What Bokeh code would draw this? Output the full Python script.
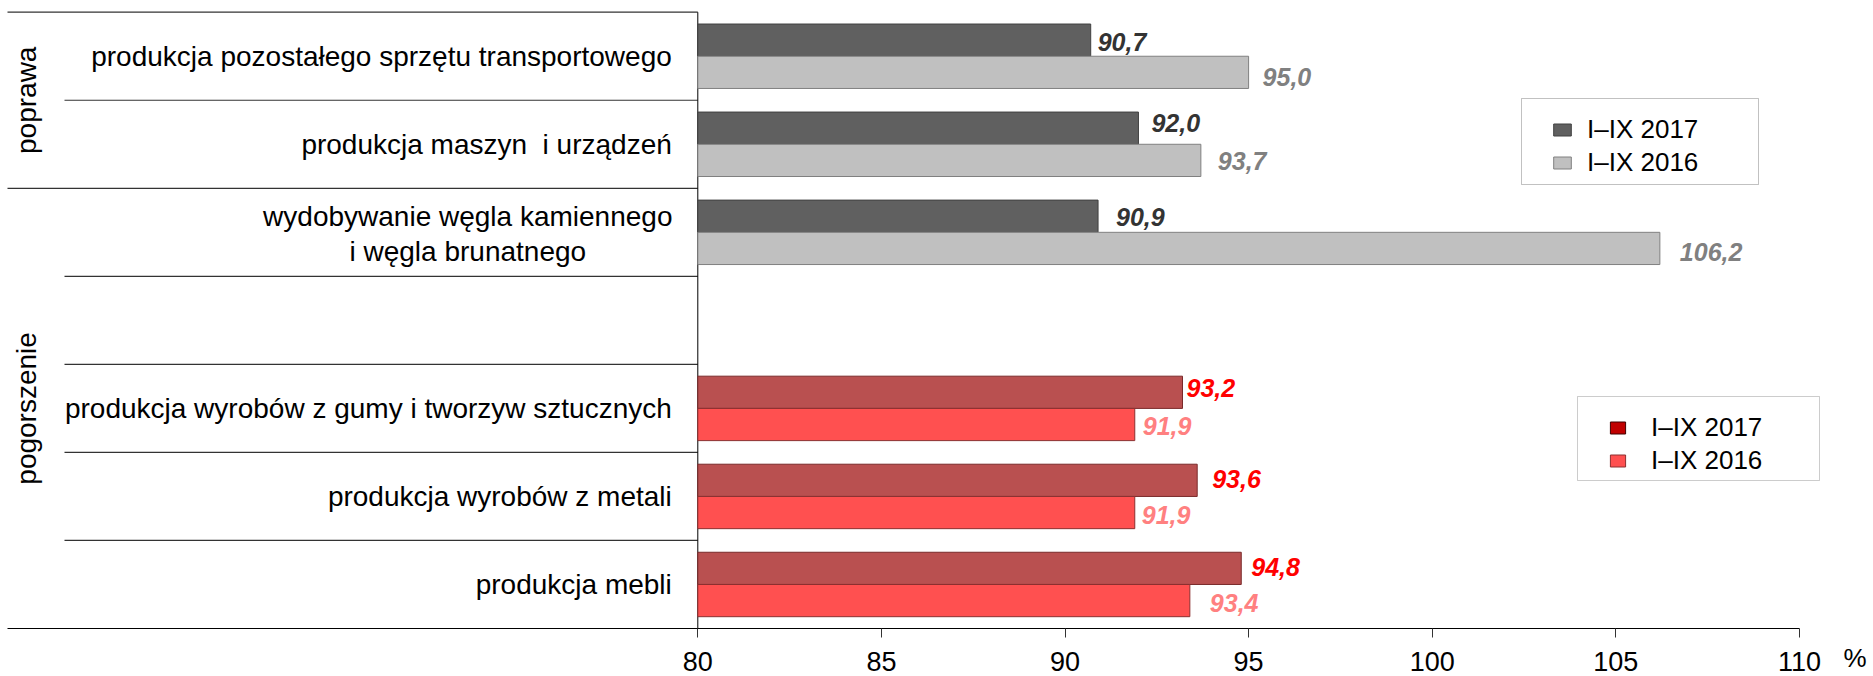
import math
from bokeh.plotting import figure
from bokeh.models import (Range1d, FixedTicker, Legend, LegendItem, BoxAnnotation)
from bokeh.core.properties import value
from bokeh.embed import file_html
from bokeh.resources import INLINE

# ---------------- data ----------------
gray_categories = ["produkcja pozostałego sprzętu transportowego",
                   "produkcja maszyn\u00a0 i urządzeń",
                   "wydobywanie węgla kamiennego\ni węgla brunatnego"]
gray_2017 = [90.7, 92.0, 90.9]
gray_2016 = [95.0, 93.7, 106.2]

red_categories = ["produkcja wyrobów z gumy i tworzyw sztucznych",
                  "produkcja wyrobów z metali",
                  "produkcja mebli"]
red_2017 = [93.2, 93.6, 94.8]
red_2016 = [91.9, 91.9, 93.4]

series_names = ["I\u2013IX 2017", "I\u2013IX 2016"]
group_names = ["poprawa", "pogorszenie"]
x_ticks = [80, 85, 90, 95, 100, 105, 110]
unit_label = "%"

# ---------------- layout / style ----------------
W, H = 1873, 676
B_TOP = 9
Y0_PX = 628           # px of the x axis (y = 0)
KX = 36.72            # px per x unit
KY = 88.04            # px per row
X_BASE = 80
X_BASE_PX = 697.3     # px of x = 80
X_START = X_BASE - X_BASE_PX / KX
X_END = X_START + W / KX
Y_START = -(H - Y0_PX) / KY
Y_END = (Y0_PX - B_TOP) / KY
N_ROWS = 7
BAR_H = 0.366
FONT = value("Liberation Sans")
LEFT_LINE_X = X_START + 7 / KX

def px_x(px):
    return X_START + px / KX

def px_y(py):
    return (Y0_PX - py) / KY

def fmt(v):
    return f"{v:.1f}".replace(".", ",")

gray_rows = [0, 1, 2]
red_rows = [4, 5, 6]
gray_y = [N_ROWS - i - 0.5 for i in gray_rows]
red_y = [N_ROWS - i - 0.5 for i in red_rows]

p = figure(width=W, height=H,
           x_range=Range1d(X_START, X_END), y_range=Range1d(Y_START, Y_END),
           y_axis_location=None,
           min_border_left=0, min_border_right=0,
           min_border_top=B_TOP, min_border_bottom=0,
           toolbar_location=None, output_backend="svg",
           background_fill_color="white", border_fill_color="white",
           outline_line_color=None)
p.xgrid.visible = False
p.ygrid.visible = False

# separator lines (left label area)
grp_lines_y = [7, 5]
row_lines_y = [6, 4, 3, 2, 1]
p.segment(x0=[LEFT_LINE_X] * len(grp_lines_y), x1=[X_BASE] * len(grp_lines_y),
          y0=grp_lines_y, y1=grp_lines_y, line_color="#333333", line_width=1.2)
p.segment(x0=[X_START + 64 / KX] * len(row_lines_y), x1=[X_BASE] * len(row_lines_y),
          y0=row_lines_y, y1=row_lines_y, line_color="#333333", line_width=1.2)
# vertical axis line
p.segment(x0=[X_BASE], x1=[X_BASE], y0=[0], y1=[N_ROWS], line_color="black", line_width=1)

# bars
off = BAR_H / 2
bg17 = p.hbar(y=[y + off for y in gray_y], left=X_BASE, right=gray_2017, height=BAR_H,
              fill_color="#606060", line_color="#404040", line_width=1)
bg16 = p.hbar(y=[y - off for y in gray_y], left=X_BASE, right=gray_2016, height=BAR_H,
              fill_color="#c0c0c0", line_color="#808080", line_width=1)
br17 = p.hbar(y=[y + off for y in red_y], left=X_BASE, right=red_2017, height=BAR_H,
              fill_color="#b95050", line_color="#7a2a2a", line_width=1)
br16 = p.hbar(y=[y - off for y in red_y], left=X_BASE, right=red_2016, height=BAR_H,
              fill_color="#ff5050", line_color="#8b3030", line_width=1)
# legend-only swatch for the red 2017 series (darker red in the key)
br17_key = p.hbar(y=[y + off for y in red_y], left=X_BASE, right=red_2017, height=BAR_H,
                  fill_color="#c00000", line_color="#400000", line_width=1, visible=False)

# value labels (pixel nudges per label)
lab_dx_g17 = [7, 13, 18]
lab_dx_g16 = [14, 17, 20]
lab_dx_r17 = [4, 15, 10]
lab_dx_r16 = [8, 7, 20]
lab_dy_g17 = [2, -5, 1]
lab_dy_g16 = [5, 1, 4]
lab_dy_r17 = [-4, -1, -1]
lab_dy_r16 = [1, 2, 2]

def value_labels(xs, ys, dxs, dys, color):
    p.text(x=xs, y=ys, text=[fmt(v) for v in xs], x_offset=dxs, y_offset=dys,
           text_align="left", text_baseline="middle", text_color=color,
           text_font=FONT, text_font_size="25px", text_font_style="bold italic")

value_labels(gray_2017, [y + off for y in gray_y], lab_dx_g17, lab_dy_g17, "#333333")
value_labels(gray_2016, [y - off for y in gray_y], lab_dx_g16, lab_dy_g16, "#808080")
value_labels(red_2017, [y + off for y in red_y], lab_dx_r17, lab_dy_r17, "#ff0000")
value_labels(red_2016, [y - off for y in red_y], lab_dx_r16, lab_dy_r16, "#ff8080")

# category labels
cats = gray_categories + red_categories
cat_y = gray_y + red_y
single = [(c, y) for c, y in zip(cats, cat_y) if "\n" not in c]
multi = [(c, y) for c, y in zip(cats, cat_y) if "\n" in c]
p.text(x=[X_BASE] * len(single), y=[y for _, y in single], text=[c for c, _ in single],
       x_offset=-26, text_align="right", text_baseline="middle", text_color="black",
       text_font=FONT, text_font_size="28px")
p.text(x=[X_BASE] * len(multi), y=[y for _, y in multi], text=[c for c, _ in multi],
       x_offset=-230, y_offset=2, text_align="center", text_baseline="middle",
       text_color="black", text_font=FONT, text_font_size="28px", text_line_height=1.12)

# group labels (rotated)
group_rows = [2, 5]
g_centers = []
top = N_ROWS
for n in group_rows:
    g_centers.append(top - n / 2)
    top -= n
p.text(x=[X_START] * 2, y=g_centers, text=group_names, x_offset=26, angle=math.pi / 2,
       text_align="center", text_baseline="middle", text_color="black",
       text_font=FONT, text_font_size="28px")

# x axis (drawn at y = 0 inside the frame)
ax = p.xaxis[0]
ax.fixed_location = 0
ax.ticker = FixedTicker(ticks=x_ticks)
ax.bounds = (LEFT_LINE_X, x_ticks[-1])
ax.major_tick_out = 9
ax.major_tick_in = 0
ax.minor_tick_out = 0
ax.minor_tick_in = 0
ax.major_tick_line_color = "#333333"
ax.axis_line_color = "black"
ax.major_label_standoff = 14
ax.major_label_text_font = "Liberation Sans"
ax.major_label_text_font_size = "27px"
ax.major_label_text_color = "black"

# unit sign right of the last tick
p.text(x=[x_ticks[-1]], y=[0], text=[unit_label], x_offset=44, y_offset=29,
       text_align="left", text_baseline="middle", text_color="black",
       text_font=FONT, text_font_size="26px")

# legend boxes
p.add_layout(BoxAnnotation(left=px_x(1521), right=px_x(1758), top=px_y(98), bottom=px_y(184),
                           fill_color="white", fill_alpha=1, line_color="#333333", line_width=1))
p.add_layout(BoxAnnotation(left=px_x(1577), right=px_x(1819), top=px_y(396), bottom=px_y(480),
                           fill_color="white", fill_alpha=1, line_color="#555555", line_width=1))

def make_legend(rs, loc, gw, standoff):
    return Legend(items=[LegendItem(label=series_names[0], renderers=[rs[0]]),
                         LegendItem(label=series_names[1], renderers=[rs[1]])],
                  location=loc, padding=0, margin=0, spacing=2,
                  glyph_width=gw, glyph_height=15, label_standoff=standoff, label_height=30,
                  label_text_font="Liberation Sans", label_text_font_size="26px",
                  label_text_color="black", inactive_fill_alpha=0,
                  border_line_alpha=0, background_fill_alpha=0)

p.add_layout(make_legend([bg17, bg16], (1551, 498), 22, 14))
p.add_layout(make_legend([br17_key, br16], (1608, 200), 19, 24))

open("out.html", "w").write(file_html(p, INLINE))
